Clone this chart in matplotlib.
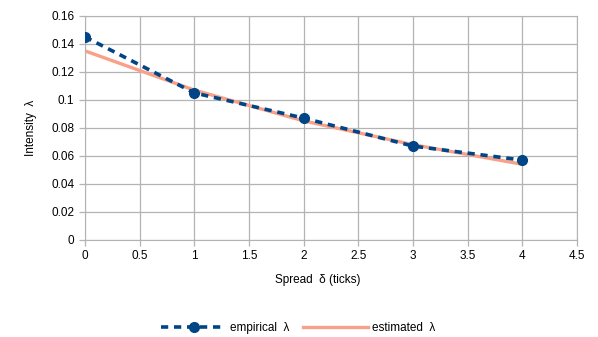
import matplotlib
matplotlib.use("Agg")
from matplotlib import pyplot as plt

plt.rcParams['font.family'] = ['Liberation Sans', 'DejaVu Sans']
plt.rcParams['font.size'] = 8.5

# spread in ticks, intensity values
spread = [0, 1, 2, 3, 4]
empirical = [0.145, 0.105, 0.087, 0.067, 0.057]
estimated = [0.135, 0.107, 0.085, 0.068, 0.054]

xticks = [0, 0.5, 1, 1.5, 2, 2.5, 3, 3.5, 4, 4.5]
xlabels = ['0', '0.5', '1', '1.5', '2', '2.5', '3', '3.5', '4', '4.5']
yticks = [0, 0.02, 0.04, 0.06, 0.08, 0.1, 0.12, 0.14, 0.16]
ylabels = ['0', '0.02', '0.04', '0.06', '0.08', '0.1', '0.12', '0.14', '0.16']

fig = plt.figure(figsize=(5.98, 3.37), dpi=100)
ax = fig.add_axes([0.142, 0.288, 0.823, 0.665])

ax.plot(spread, empirical, color='#004586', linestyle=(0, (2, 1.6)), linewidth=2.6,
        marker='o', markersize=7, label='empirical  λ', zorder=3)
ax.plot(spread, estimated, color='#f9a088', linewidth=2.4, label='estimated  λ', zorder=2)

ax.set_xlim(0, 4.5)
ax.set_ylim(0, 0.16)
ax.set_xticks(xticks)
ax.set_xticklabels(xlabels)
ax.set_yticks(yticks)
ax.set_yticklabels(ylabels)
ax.grid(True, color='#b3b3b3', linewidth=0.9)
ax.set_axisbelow(True)
for s in ax.spines.values():
    s.set_color('#b3b3b3')
ax.tick_params(colors='#b3b3b3', labelcolor='black', length=4, width=0.9)

ax.set_xlabel('Spread  δ (ticks)')
ax.xaxis.set_label_coords(0.4736, -0.152)
ax.set_ylabel('Intensity  λ', labelpad=10)

ax.legend(loc='upper center', bbox_to_anchor=(0.433, -0.32), ncol=2, frameon=False,
          handlelength=5.5, columnspacing=1.2, handletextpad=0.3)

fig.savefig('out.png', dpi=100)
